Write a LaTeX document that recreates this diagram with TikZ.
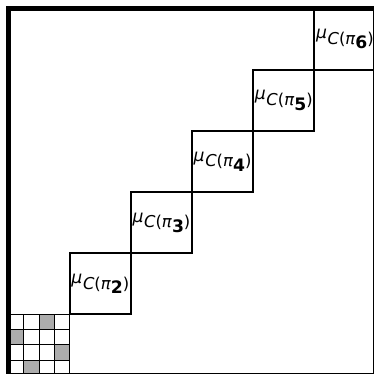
\documentclass[tikz,border=0pt]{standalone}
\usepackage{fontspec}
\setmainfont{DejaVu Sans}
\usetikzlibrary{positioning}

% label of one diagonal block
\newcommand{\mulab}[1]{\raisebox{0.65ex}{\footnotesize\textit{μ}}\kern0.3pt\textit{C}(\textit{π}\raisebox{-0.5ex}{\footnotesize\bfseries #1})}

\begin{document}
\begin{tikzpicture}[
					x=1cm, y=1cm,
					% --- Styles ---
					frameline/.style={
						draw, line width=2pt
					},
					blockline/.style={
						draw, line width=0.9pt
					},
					gridline/.style={
						draw, line width=0.5pt
					},
					cellfill/.style={
						fill=gray!65
					},
					mulabel/.style={
						inner sep=0pt, font=\fontsize{7.6}{9}\selectfont
					}
					]
					
					% --- 0. Picture size ---
					\useasboundingbox (-0.14,0.025) rectangle (5.975,6.14);
					
					% --- 1. Small grid (first block) ---
					\fill [cellfill] (0.50,0.75) rectangle (0.75,1.00);
					\fill [cellfill] (0.00,0.50) rectangle (0.25,0.75);
					\fill [cellfill] (0.75,0.25) rectangle (1.00,0.50);
					\fill [cellfill] (0.25,0.00) rectangle (0.50,0.25);
					\draw [gridline] (0,0) grid[step=0.25] (1,1);
					
					% --- 2. Diagonal blocks ---
					\foreach \k in {2,...,6} {
						\draw [blockline] (\k-1,\k-1) rectangle (\k,\k);
						\node [mulabel] (mu\k) at (\k-0.5,\k-0.5) {\mulab{\k}};
					}
					
					% --- 3. Outer frame ---
					\draw [frameline] (0,0) rectangle (6,6);
					
				\end{tikzpicture}
\end{document}
